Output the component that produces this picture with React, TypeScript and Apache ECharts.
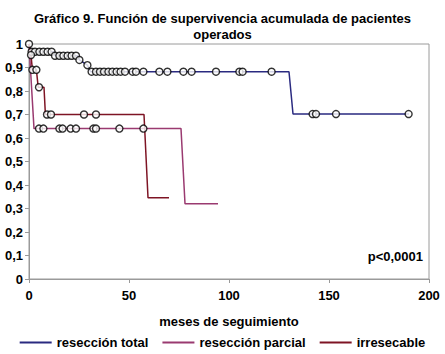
import React, { useEffect, useRef } from "react";
import * as echarts from "echarts";

const TITLE = "Gráfico 9. Función de supervivencia acumulada de pacientes\noperados";
const X_NAME = "meses de seguimiento";
const SERIES_NAMES = ["resección total", "resección parcial", "irresecable"];
const P_TEXT = "p<0,0001";

// Kaplan-Meier curves: [months, cumulative survival]
const curveTotal: [number, number][] = [
  [0, 1], [0.8, 0.967], [12.5, 0.967], [13, 0.95], [24.5, 0.95], [25.2, 0.932],
  [29.2, 0.91], [30.8, 0.882], [130, 0.882], [132, 0.702], [190, 0.702],
];
const curveParcial: [number, number][] = [
  [0, 1], [2.5, 0.64], [76, 0.64], [78, 0.32], [94.5, 0.32],
];
const curveIrresecable: [number, number][] = [
  [0, 1], [1, 0.953], [1.7, 0.89], [3.7, 0.89], [4.6, 0.816], [7.5, 0.816],
  [8.2, 0.7], [57.5, 0.7], [59.5, 0.346], [70, 0.346],
];

// censored observations (circles)
const censorTotal: [number, number][] = [
  [0, 1], [1.3, 0.967], [3, 0.967], [5.2, 0.967], [7.2, 0.967], [9.3, 0.967], [11.3, 0.967],
  [13, 0.95], [15.2, 0.95], [17.2, 0.95], [19.3, 0.95], [21.3, 0.95], [23.5, 0.95],
  [25.2, 0.932], [29.2, 0.91],
  [31.3, 0.882], [33.5, 0.882], [35.5, 0.882], [37.5, 0.882], [39.7, 0.882], [41.7, 0.882],
  [43.8, 0.882], [45.8, 0.882], [48, 0.882], [51.8, 0.882], [53.5, 0.882], [57.2, 0.882],
  [65.2, 0.882], [69.2, 0.882], [77.2, 0.882], [81.3, 0.882], [93.5, 0.882], [105.2, 0.882],
  [106.8, 0.882], [121.3, 0.882],
  [141.8, 0.702], [143.5, 0.702], [153.5, 0.702], [189.8, 0.702],
];
const censorParcial: [number, number][] = [
  [5, 0.64], [7.2, 0.64], [15.2, 0.64], [16.8, 0.64], [20.8, 0.64], [23.5, 0.64],
  [32.2, 0.64], [33.5, 0.64], [45.2, 0.64], [57.2, 0.64],
];
const censorIrresecable: [number, number][] = [
  [1, 0.953], [1.7, 0.89], [3.7, 0.89], [5, 0.816], [9, 0.7], [11, 0.7],
  [27.5, 0.7], [33.5, 0.7],
];

const COLORS = ["#2a2a80", "#9a3a70", "#7e1424"];
const FONT = "'Liberation Sans', Arial, sans-serif";

export default function App() {
  const ref = useRef<HTMLDivElement>(null);
  useEffect(() => {
    if (!ref.current) return;
    const chart = echarts.init(ref.current, undefined, { renderer: "svg" });
    const censorStyle = {
      type: "scatter" as const,
      symbol: "circle",
      symbolSize: 7,
      itemStyle: { color: "#ffffff", borderColor: "#000000", borderWidth: 1.4 },
      z: 5,
      silent: true,
    };
    chart.setOption({
      animation: false,
      backgroundColor: "#ffffff",
      textStyle: { fontFamily: FONT },
      title: {
        text: TITLE,
        left: "center",
        top: 5,
        textStyle: { fontSize: 13, fontWeight: "bold", color: "#000", lineHeight: 16, fontFamily: FONT },
      },
      grid: {
        left: 29, right: 16, top: 44, bottom: 75,
        show: true, borderColor: "#9a9a9a", borderWidth: 1, backgroundColor: "transparent",
      },
      legend: {
        bottom: 0,
        left: "center",
        data: SERIES_NAMES,
        icon: "rect",
        itemWidth: 32,
        itemHeight: 2,
        itemGap: 14,
        textStyle: { fontSize: 13, fontWeight: "bold", color: "#000", fontFamily: FONT },
      },
      xAxis: {
        type: "value",
        min: 0, max: 200, interval: 50,
        name: X_NAME,
        nameLocation: "middle",
        nameGap: 36,
        nameTextStyle: { fontSize: 13, fontWeight: "bold", color: "#000", fontFamily: FONT },
        axisLine: { lineStyle: { color: "#9a9a9a" } },
        axisTick: { show: true, length: 4, lineStyle: { color: "#9a9a9a" } },
        axisLabel: { fontSize: 13, fontWeight: "bold", color: "#000", margin: 10, fontFamily: FONT },
        splitLine: { show: false },
      },
      yAxis: {
        type: "value",
        min: 0, max: 1, interval: 0.1,
        axisLine: { show: true, lineStyle: { color: "#9a9a9a" } },
        axisTick: { show: true, length: 4, lineStyle: { color: "#9a9a9a" } },
        axisLabel: {
          fontSize: 13, fontWeight: "bold", color: "#000", margin: 6, fontFamily: FONT,
          formatter: (v: number) => (v === 0 || v === 1 ? String(v) : v.toFixed(1).replace(".", ",")),
        },
        splitLine: { show: false },
      },
      series: [
        { name: SERIES_NAMES[0], type: "line", data: curveTotal, showSymbol: false, symbol: "none",
          lineStyle: { color: COLORS[0], width: 1.5 }, itemStyle: { color: COLORS[0] } },
        { name: SERIES_NAMES[1], type: "line", data: curveParcial, showSymbol: false, symbol: "none",
          lineStyle: { color: COLORS[1], width: 1.5 }, itemStyle: { color: COLORS[1] } },
        { name: SERIES_NAMES[2], type: "line", data: curveIrresecable, showSymbol: false, symbol: "none",
          lineStyle: { color: COLORS[2], width: 1.5 }, itemStyle: { color: COLORS[2] } },
        { ...censorStyle, name: "c1", data: censorTotal },
        { ...censorStyle, name: "c2", data: censorParcial },
        { ...censorStyle, name: "c3", data: censorIrresecable },
      ],
      graphic: [
        {
          type: "text",
          right: 22,
          top: 250,
          style: { text: P_TEXT, fontSize: 13, fontWeight: "bold", fill: "#000", fontFamily: FONT },
        },
      ],
    });
    return () => chart.dispose();
  }, []);
  return <div ref={ref} style={{ width: 445, height: 354, position: "absolute", left: 0, top: 0 }} />;
}
